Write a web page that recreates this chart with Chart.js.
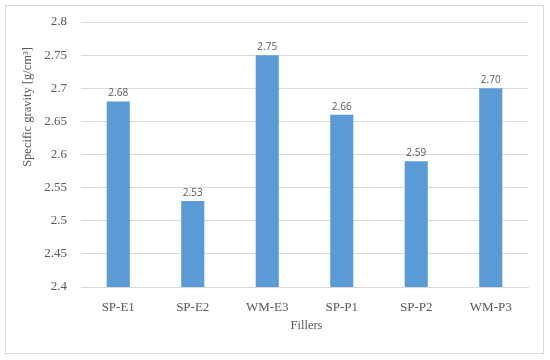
<!DOCTYPE html>
<html>
<head>
<meta charset="utf-8">
<script src="https://cdn.jsdelivr.net/npm/chart.js@4"></script>
<style>
html,body{margin:0;padding:0;background:#fff;}
#wrap{width:550px;height:360px;position:relative;}
</style>
</head>
<body>
<div id="wrap"><canvas id="c" width="550" height="360"></canvas></div>
<script>
const categories = ["SP-E1","SP-E2","WM-E3","SP-P1","SP-P2","WM-P3"];
const specificGravity = [2.68, 2.53, 2.75, 2.66, 2.59, 2.70];
const yTicks = [2.4, 2.45, 2.5, 2.55, 2.6, 2.65, 2.7, 2.75, 2.8];
const yTitle = "Specific gravity [g/cm³]";
const xTitle = "Fillers";

const serif = "'Liberation Serif', 'DejaVu Serif', serif";
const textColor = "#595959";

const frame = {
  id: 'frame',
  beforeDraw(chart){
    const ctx = chart.ctx;
    ctx.save();
    ctx.fillStyle = '#fff';
    ctx.fillRect(0,0,chart.width,chart.height);
    ctx.strokeStyle = '#d9d9d9';
    ctx.lineWidth = 1;
    ctx.strokeRect(5.5,5.5,538,348);
    ctx.restore();
  },
  afterDraw(chart){
    const ctx = chart.ctx;
    const a = chart.chartArea;
    ctx.save();
    ctx.fillStyle = textColor;
    ctx.font = "12.5px " + serif;
    ctx.textAlign = 'center';
    ctx.textBaseline = 'middle';
    ctx.fillText(xTitle, (a.left + a.right) / 2 + 2, a.bottom + 39);
    ctx.translate(28, 107);
    ctx.rotate(-Math.PI / 2);
    ctx.fillText(yTitle, 0, 0);
    ctx.restore();
  }
};

const labels = {
  id: 'labels',
  afterDatasetsDraw(chart){
    const ctx = chart.ctx;
    const meta = chart.getDatasetMeta(0);
    ctx.save();
    ctx.font = "10px 'Open Sans', 'Liberation Sans', sans-serif";
    ctx.fillStyle = textColor;
    ctx.textAlign = 'center';
    ctx.textBaseline = 'bottom';
    meta.data.forEach((bar, i) => {
      ctx.fillText(specificGravity[i].toFixed(2), bar.x, bar.y - 3);
    });
    ctx.restore();
  }
};

new Chart(document.getElementById('c'), {
  type: 'bar',
  data: {
    labels: categories,
    datasets: [{
      data: specificGravity,
      backgroundColor: '#5b9bd5',
      borderWidth: 0,
      categoryPercentage: 1,
      barPercentage: 0.31
    }]
  },
  options: {
    responsive: false,
    animation: false,
    devicePixelRatio: 1,
    layout: { padding: { left: 5, right: 22, top: 22, bottom: 0 } },
    plugins: { legend: { display: false }, tooltip: { enabled: false } },
    scales: {
      x: {
        grid: { display: false, drawTicks: false },
        border: { color: '#d9d9d9' },
        ticks: { color: textColor, font: { family: serif, size: 13 }, padding: 13 },
        afterFit(s){ s.height = 73; }
      },
      y: {
        min: 2.4, max: 2.8,
        afterBuildTicks(s){ s.ticks = yTicks.map(v => ({ value: v })); },
        grid: { color: '#d9d9d9', drawTicks: false },
        border: { display: false },
        ticks: { color: textColor, font: { family: serif, size: 13 }, padding: 14,
          callback: v => String(Math.round(v*100)/100) },
        afterFit(s){ s.width = 76; }
      }
    }
  },
  plugins: [frame, labels]
});
</script>
</body>
</html>
